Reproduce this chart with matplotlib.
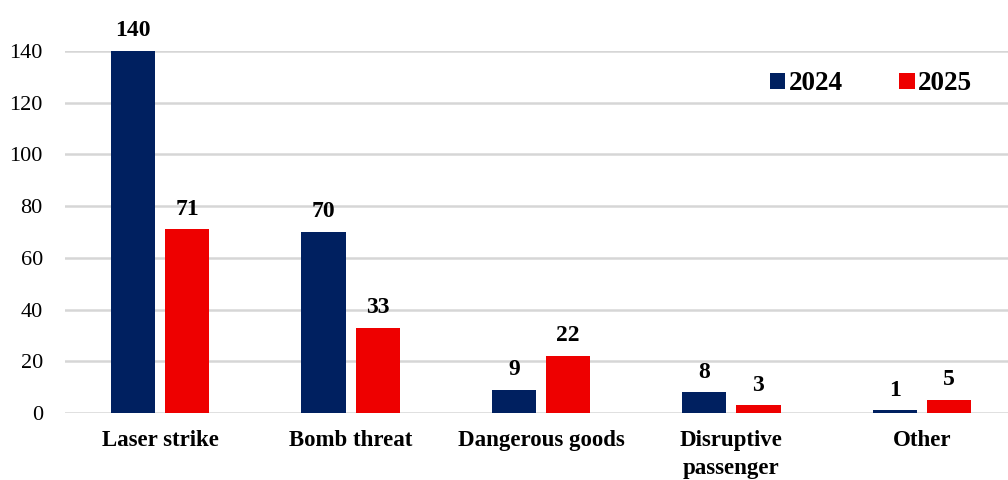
import matplotlib.pyplot as plt
import numpy as np

plt.rcParams['font.family'] = ['Liberation Serif', 'DejaVu Serif']

categories = ['Laser strike', 'Bomb threat', 'Dangerous goods', 'Disruptive\npassenger', 'Other']
vals_2024 = [140, 70, 9, 8, 1]
vals_2025 = [71, 33, 22, 3, 5]
years = ['2024', '2025']

navy = '#002060'
red = '#EE0000'

fig = plt.figure(figsize=(10.08, 4.8), dpi=100)
ax = fig.add_axes([65 / 1008, 1 - 413 / 480, 952 / 1008, 362 / 480])

x = np.arange(len(categories))
w = 0.232
off = 0.142
b1 = ax.bar(x - off, vals_2024, w, color=navy, label=years[0], zorder=3)
b2 = ax.bar(x + off, vals_2025, w, color=red, label=years[1], zorder=3)

for bars, vals in [(b1, vals_2024), (b2, vals_2025)]:
    for rect, v in zip(bars, vals):
        ax.annotate(str(v), (rect.get_x() + rect.get_width() / 2, v),
                    xytext=(0, 7), textcoords='offset points',
                    ha='center', va='bottom', fontsize=17, fontweight='bold',
                    annotation_clip=False)

ax.set_xlim(-0.5, 4.5)
ax.set_ylim(0, 140)
ax.set_yticks(range(0, 141, 20))
ax.yaxis.grid(True, color='#D6D6D6', linewidth=1.8, zorder=0)
ax.set_axisbelow(True)
for s in ax.spines.values():
    s.set_visible(False)
ax.tick_params(axis='both', length=0)
ax.tick_params(axis='y', labelsize=16, pad=16)
ax.set_xticks(x)
ax.set_xticklabels(categories, fontsize=16.5, fontweight='bold', linespacing=1.45)
ax.tick_params(axis='x', pad=12)

ax.legend(loc='center left', bbox_to_anchor=(770 / 1008, 1 - 84 / 480),
          bbox_transform=fig.transFigure, ncol=2, frameon=False,
          prop={'size': 19.5, 'weight': 'bold'}, handlelength=0.56, handleheight=0.56,
          handletextpad=0.12, columnspacing=2.1, borderpad=0, borderaxespad=0)

fig.savefig('out.png', dpi=100)
